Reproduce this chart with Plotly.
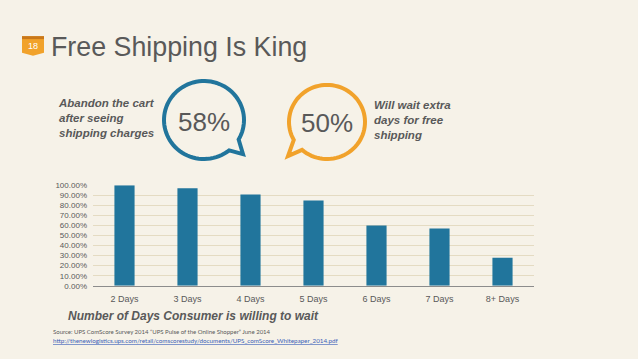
import math
import plotly.graph_objects as go

W, H = 638, 359

categories = ["2 Days", "3 Days", "4 Days", "5 Days", "6 Days", "7 Days", "8+ Days"]
values = [1.00, 0.97, 0.91, 0.85, 0.60, 0.57, 0.28]
y_ticks = [i / 10 for i in range(11)]

stat_abandon = "58%"
stat_wait = "50%"

BG = "#f6f2e8"
BLUE = "#21759c"
ORANGE = "#f1a22b"
GRAY = "#595959"


def px(x):
    return x / W


def py(y):
    return 1 - y / H


def bubble_path(cx, cy, r, a0, a1, tip):
    pts = []
    n = 80
    for i in range(n + 1):
        a = math.radians(a0 + (a1 - a0) * i / n)
        pts.append((cx + r * math.cos(a), cy + r * math.sin(a)))
    pts.append(tip)
    d = "M {:.5f},{:.5f} ".format(px(pts[0][0]), py(pts[0][1]))
    d += " ".join("L {:.5f},{:.5f}".format(px(x), py(y)) for x, y in pts[1:])
    return d + " Z"


fig = go.Figure()
fig.add_trace(go.Bar(x=categories, y=values, marker_color=BLUE, marker_line_width=0))

fig.update_layout(
    width=W, height=H,
    margin=dict(l=0, r=0, t=0, b=0),
    paper_bgcolor=BG, plot_bgcolor=BG,
    bargap=0.68,
    showlegend=False,
    font=dict(family="Liberation Sans, Arial, sans-serif", color=GRAY),
    xaxis=dict(domain=[px(93), px(534)], showgrid=False, showline=True,
               linecolor="#8c8c8c", linewidth=1, ticks="", ticklabelstandoff=4,
               tickfont=dict(size=9, color=GRAY), fixedrange=True),
    yaxis=dict(domain=[py(289), py(186)], range=[0, 1], tickvals=y_ticks,
               tickformat=".2%", showgrid=True, gridcolor="#e4dbc2",
               gridwidth=1, zeroline=False, showline=False, ticks="",
               ticklabelstandoff=5,
               tickfont=dict(size=8, color=GRAY), fixedrange=True),
)

shapes = []
# badge
shapes.append(dict(type="path", xref="paper", yref="paper",
                   path="M {},{} L {},{} L {},{} L {},{} L {},{} L {},{} Z".format(
                       px(22), py(33), px(44), py(33), px(44), py(50),
                       px(33), py(53), px(22), py(50), px(22), py(33)),
                   fillcolor=ORANGE, line=dict(width=0)))
shapes.append(dict(type="rect", xref="paper", yref="paper",
                   x0=px(22), x1=px(44), y0=py(36), y1=py(33),
                   fillcolor="#c9781a", line=dict(width=0)))
# speech bubbles
shapes.append(dict(type="path", xref="paper", yref="paper",
                   path=bubble_path(204, 119, 40, 51, 390, (243, 154)),
                   line=dict(color=BLUE, width=4), fillcolor="rgba(0,0,0,0)"))
shapes.append(dict(type="path", xref="paper", yref="paper",
                   path=bubble_path(327, 121, 38, 151, 491, (288, 156)),
                   line=dict(color=ORANGE, width=4), fillcolor="rgba(0,0,0,0)"))
fig.update_layout(shapes=shapes)


def ann(text, x, y, size, xanchor="left", color=GRAY, family=None):
    d = dict(text=text, x=px(x), y=py(y), xref="paper", yref="paper",
             xanchor=xanchor, yanchor="middle", showarrow=False,
             font=dict(size=size, color=color))
    if family:
        d["font"]["family"] = family
    fig.add_annotation(**d)


ann("18", 33, 43, 9, xanchor="center", color="white")
ann("Free Shipping Is King", 49, 44, 26.8)
ann(stat_abandon, 204, 121, 26, xanchor="center")
ann(stat_wait, 327, 122, 26, xanchor="center")

fig.add_annotation(text="<b><i>Abandon the cart<br>after seeing<br>shipping charges</i></b>",
                   x=px(56), y=py(117), xref="paper", yref="paper",
                   xanchor="left", yanchor="middle", align="left", showarrow=False,
                   font=dict(size=11.5, color=GRAY))
fig.add_annotation(text="<b><i>Will wait extra<br>days for free<br>shipping</i></b>",
                   x=px(372), y=py(119), xref="paper", yref="paper",
                   xanchor="left", yanchor="middle", align="left", showarrow=False,
                   font=dict(size=11.5, color=GRAY))

ann("<b><i>Number of Days Consumer is willing to wait</i></b>", 66, 320, 12)
ann("Source: UPS ComScore Survey 2014 \u201cUPS Pulse of the Online Shopper\u201d June 2014",
    51, 336, 6, family="Lato, sans-serif")
ann("<u>http://thenewlogistics.ups.com/retail/comscorestudy/documents/UPS_comScore_Whitepaper_2014.pdf</u>",
    51, 345, 6.25, color="#3a5fb8", family="Lato, sans-serif")

fig.write_html("out.html", config={"displayModeBar": False},
               post_script="document.body.style.margin='0';document.body.style.overflow='hidden';")
